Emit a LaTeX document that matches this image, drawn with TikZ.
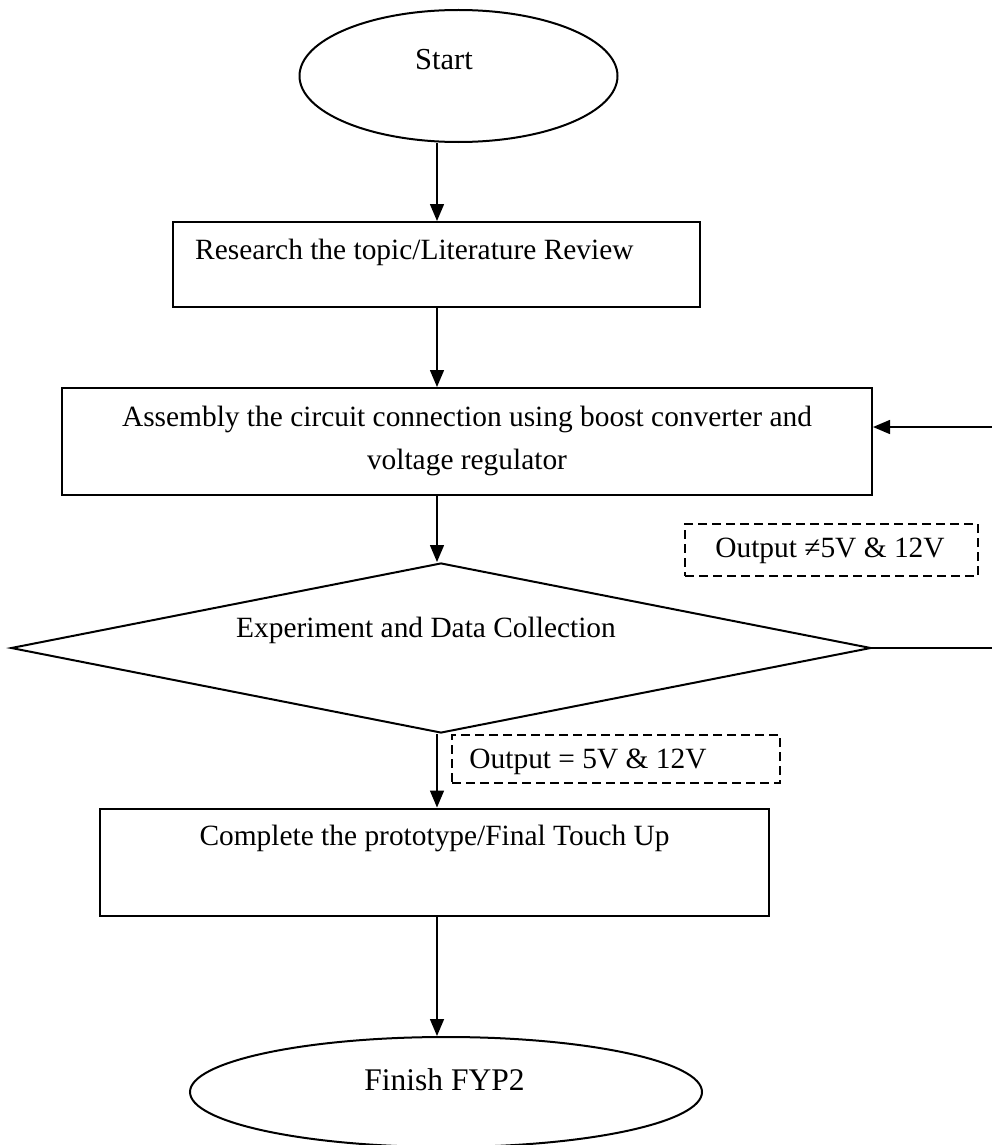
\documentclass[tikz,border=0pt]{standalone}
\usepackage{fontspec}
\setmainfont{Liberation Serif}
\usetikzlibrary{shapes.geometric,arrows.meta}
\begin{document}
\begin{tikzpicture}[x=1pt,y=-1pt,
  conn/.style={line width=1.5pt},
  arr/.style={line width=1.5pt,-{Triangle[length=17pt,width=14pt]}},
  term/.style={draw,ellipse,line width=2pt,inner sep=0pt},
  proc/.style={draw,rectangle,line width=2pt,inner sep=0pt},
  dec/.style={draw,diamond,line width=2pt,inner sep=0pt},
  note/.style={draw,rectangle,line width=2pt,dash pattern=on 9pt off 5pt,inner sep=0pt},
  txt/.style={font=\fontsize{29.4}{43}\selectfont,inner sep=0pt,align=center}
]
\useasboundingbox (0,0) rectangle (992,1145);

% shapes
\node[term,minimum width=318pt,minimum height=132pt] (start) at (458.5,76) {};
\node[proc,minimum width=527pt,minimum height=85pt] (res) at (436.5,264.5) {};
\node[proc,minimum width=810pt,minimum height=107pt] (asm) at (467,441.5) {};
\node[dec,minimum width=860pt,minimum height=170pt] (dec) at (441,648) {};
\node[note,minimum width=293pt,minimum height=52pt] (ne) at (831.5,550) {};
\node[note,minimum width=328pt,minimum height=48pt] (eq) at (616,759) {};
\node[proc,minimum width=669pt,minimum height=107pt] (comp) at (434.5,862) {};
\node[term,minimum width=512pt,minimum height=110pt] (fin) at (446,1092) {};

% texts
\node[txt,font=\fontsize{30.5}{36}\selectfont] (tstart) at (444,60) {Start};
\node[txt,anchor=west] (tres) at (195,252) {Research the topic/Literature Review};
\node[txt] (tasm) at (467,441) {Assembly the circuit connection using boost converter and\\voltage regulator};
\node[txt] (tdec) at (426,630) {Experiment and Data Collection};
\node[txt] (tne) at (830,551) {Output ≠5V \& 12V};
\node[txt] (teq) at (588,762) {Output = 5V \& 12V};
\node[txt] (tcomp) at (434.5,838) {Complete the prototype/Final Touch Up};
\node[txt,font=\fontsize{31.5}{36}\selectfont] (tfin) at (444.5,1080) {Finish FYP2};

% helper coordinates
\coordinate (sp) at (437,0);
\coordinate (edgeL) at (992,648);
\coordinate (edgeA) at (992,427);

% connectors
\draw[arr] (start.south -| sp) -- (res.north -| sp);
\draw[arr] (res.south -| sp) -- (asm.north -| sp);
\draw[arr] (asm.south -| sp) -- (dec.north -| sp);
\draw[arr] (dec.south -| sp) -- (comp.north -| sp);
\draw[arr] (comp.south -| sp) -- (fin.north -| sp);
\draw[conn] (dec.east) -- (edgeL);
\draw[arr] (edgeA) -- (asm.east |- edgeA);
\end{tikzpicture}
\end{document}
